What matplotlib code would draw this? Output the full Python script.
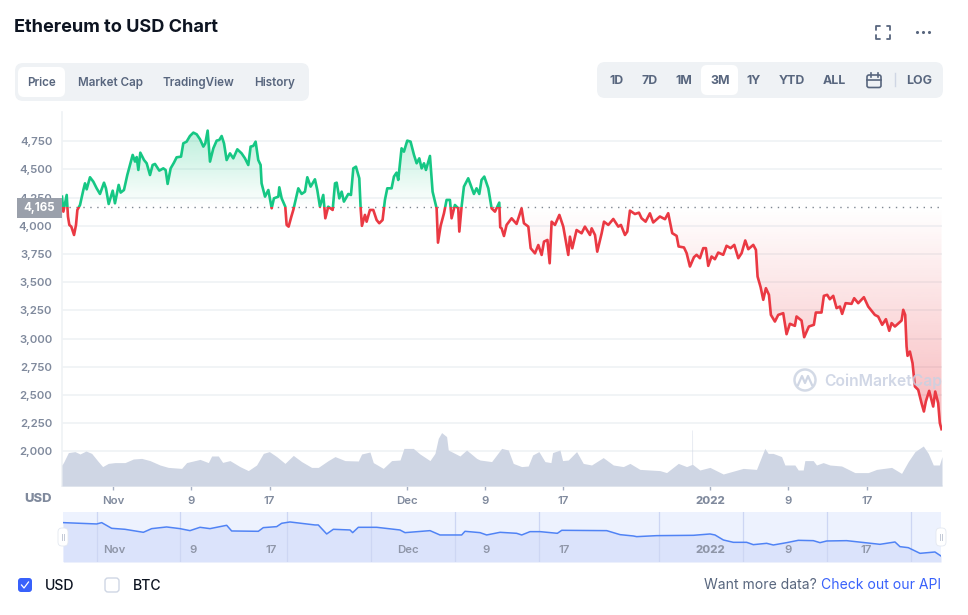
import numpy as np
import matplotlib
matplotlib.use("Agg")
import matplotlib.pyplot as plt
from matplotlib.patches import FancyBboxPatch, Rectangle, Circle
from matplotlib.path import Path

plt.rcParams['font.family'] = ['Inter', 'DejaVu Sans']

# ---- data (days counted from the first sample of the 3M window) ----
first_day_to_nov1 = 5.21
window_days = 89.9
baseline_price = 4165

price_days = [
 0.00,.14,.48,.61,.75,.95,1.23,1.43,1.57,1.84,2.18,2.35,2.52,2.86,3.20,3.54,3.88,4.29,4.49,4.77,5.18,5.41,5.79,5.99,6.33,6.67,
 7.22,7.46,7.63,7.80,8.00,8.38,8.65,8.99,9.26,9.50,9.94,10.35,10.59,10.79,11.10,11.44,11.71,12.16,12.39,12.73,13.07,13.42,13.76,
 14.10,14.44,14.64,14.88,15.12,15.46,15.80,16.07,16.31,16.55,16.82,17.16,17.50,17.91,18.35,18.69,19.03,19.27,19.54,19.78,20.05,
 20.29,20.39,20.74,21.08,21.42,21.65,22.10,22.20,22.44,22.81,22.95,23.15,23.43,23.63,23.90,24.14,24.48,24.82,25.06,25.40,25.84,26.08,26.35,
 26.69,26.90,27.20,27.65,27.89,28.06,28.33,28.57,28.80,29.25,29.52,29.76,30.03,30.37,30.51,30.64,30.95,31.12,31.46,31.80,32.14,32.41,32.75,
 32.99,33.23,33.67,33.91,34.18,34.35,34.69,34.93,35.27,35.61,35.96,36.23,36.50,36.74,36.98,37.18,37.59,37.86,38.10,38.27,38.41,38.68,39.02,
 39.29,39.63,39.80,40.14,40.48,40.59,40.82,41.06,41.50,42.08,42.35,42.63,42.86,43.14,43.55,43.89,44.23,44.67,44.77,44.91,45.15,45.42,45.93,
 46.44,46.95,47.19,47.64,47.88,48.32,48.66,49.00,49.24,49.59,49.82,50.02,50.36,50.81,51.21,51.72,51.89,52.13,52.57,53.08,53.42,53.94,54.11,
 54.45,54.68,55.13,55.37,55.81,56.32,56.83,57.10,57.51,57.75,58.02,58.53,58.94,59.21,59.62,60.06,
 60.40,61.08,61.60,61.93,62.34,62.79,62.99,63.54,63.81,64.15,64.56,64.83,65.17,65.51,65.78,66.02,66.36,66.70,67.04,67.55,67.89,68.30,68.68,
 69.09,69.43,69.80,70.11,70.62,70.89,71.06,71.37,71.64,71.91,72.22,72.42,72.83,73.17,73.68,74.02,74.36,74.87,75.04,75.55,75.82,76.30,76.81,
 77.01,77.59,77.83,78.17,78.44,78.79,79.13,79.47,79.70,80.05,80.66,80.93,81.34,81.92,82.36,83.04,83.38,83.79,84.17,84.51,84.75,85.09,85.77,
 85.94,86.14,86.28,86.38,86.62,86.89,87.13,87.47,87.81,88.05,88.25,88.59,89.00,89.21,89.51,89.68,89.85]

price_usd = [
 4259,4126,4274,4082,4008,3993,3919,4008,4141,4185,4318,4377,4324,4431,4392,4333,4283,4383,4333,4194,4312,4200,4363,4295,4318,4451,
 4629,4570,4610,4496,4649,4584,4555,4451,4540,4549,4490,4510,4495,4372,4510,4561,4608,4614,4732,4747,4797,4827,4812,
 4768,4703,4732,4845,4570,4688,4756,4762,4797,4732,4584,4643,4599,4679,4643,4599,4540,4703,4709,4747,4584,
 4540,4377,4259,4318,4156,4244,4259,4342,4244,4170,4008,3993,4082,4141,4244,4333,4283,4303,4431,4348,4413,4318,4170,
 4274,4067,4170,4141,4377,4383,4244,4303,4215,4283,4274,4510,4525,4422,4155,4000,4097,4037,4141,4141,4052,4023,4052,
 4230,4333,4333,4437,4472,4407,4688,4658,4756,4747,4629,4555,4599,4510,4555,4496,4620,4303,4215,4155,3851,4000,4111,
 4230,4230,4067,4185,4155,3949,4170,4348,4422,4283,4333,4283,4407,4437,4333,4155,4126,4206,3987,3978,3910,4008,4067,
 4017,4155,4023,3993,3801,3756,3830,3742,3860,3875,3668,4037,4008,4097,3993,3742,3904,3801,3963,3934,3993,3919,3978,
 3919,3771,3934,4037,4008,4061,3993,4008,3919,3949,4135,4105,4117,4067,4037,4111,
 4030,4083,4059,4112,3935,3911,3817,3808,3758,3639,3722,3743,3713,3802,3802,3645,3728,3704,3763,3743,3823,3802,3831,
 3713,3758,3870,3793,3831,3787,3550,3456,3344,3447,3388,3210,3151,3210,3225,3039,3131,3113,3196,3160,3012,3107,3122,
 3231,3231,3379,3388,3349,3379,3270,3284,3219,3314,3308,3358,3314,3367,3284,3210,3195,3122,3172,3069,3137,3107,3160,
 3255,3210,2930,2847,2885,2782,2575,2545,2427,2353,2442,2536,2397,2530,2427,2250,2196]

volume_days = [
 0,.2,.65,1.33,1.84,2.45,3.03,3.71,4.15,4.73,5.41,6.44,7.29,8.14,8.99,10.01,10.86,12.22,12.73,14.10,14.95,15.29,15.97,16.41,17.16,18.18,19.03,
 19.88,20.57,21.18,21.93,22.78,23.63,24.48,25.50,26.18,27.20,27.89,28.91,30.27,30.61,31.46,31.80,32.82,33.67,34.53,34.93,35.89,36.57,37.59,
 38.10,38.44,38.78,39.29,39.46,40.65,41.33,42.36,42.70,43.89,44.91,45.59,46.10,46.95,47.63,48.08,48.72,49.34,49.95,50.12,50.87,51.14,51.72,
 52.57,53.25,54.10,55.29,56.32,57.34,58.02,59.04,61.08,61.76,62.96,63.81,64.36,64.37,64.41,64.42,65.16,66.19,67.55,69.59,70.95,71.80,72.14,
 72.65,73.51,73.85,74.87,75.21,75.72,75.89,76.74,77.08,77.76,78.45,79.64,81.00,82.36,83.22,84.75,85.77,86.45,87.14,87.99,88.50,89.01,89.63,89.90]

volume_bn = [
 10.5,12.2,16.7,17.2,16,17.5,16.3,12.2,9.7,11.3,11.7,11.7,13.5,13.8,12.7,10.5,9.3,8.8,11.7,13.3,11.7,15,15,11.8,12.7,9.7,7.7,
 10.5,16.3,17.2,14.7,11.3,15.3,12.2,9.3,9.3,12.7,14.7,12.7,12.5,16,17,11.7,8.8,12.7,13,18.8,18.8,16,12.7,
 16.3,23.8,26.7,24.7,18,15,18,13.8,13,12.2,18.8,18,11.3,9.7,10,15.5,17.2,12.2,11.7,16.7,18,12.7,13,
 17.2,11.3,10.5,14.2,10.5,9.7,11.3,8.3,7.7,6.7,11.3,9.7,10.8,28,28,10.8,8,9.3,6,8.8,8.3,18.8,16.3,
 16.3,14.7,10.5,10.5,8,8,12.7,12.7,10.5,11.7,10.5,10,6.7,6.7,8.3,9.3,6.3,12.2,17.2,20,16.3,10.5,10.5,14.7]

overview_days = [
 .03,3.45,3.96,4.98,6.35,8.23,9.08,10.61,11.98,13.0,14.03,15.05,16.76,17.27,20.0,20.51,21.88,22.39,23.24,25.8,26.14,27.0,27.68,29.39,29.66,
 30.24,32.12,34.5,35.02,37.58,38.6,40.82,41.16,42.7,43.38,44.75,46.45,46.97,47.82,48.85,50.62,51.07,55.67,57.04,58.4,58.74,60.79,64.55,66.25,
 66.76,67.62,68.64,70.0,70.68,72.05,72.73,74.1,75.29,76.83,77.51,78.2,80.24,83.65,85.19,85.7,86.55,87.75,89.28,89.9]

overview_usd = [
 4800,4696,4800,4358,4280,4046,4332,4462,4332,4176,4436,4332,4592,4150,4124,4410,4488,4748,4852,4618,4618,3916,4280,4228,4020,
 4436,4436,4228,4020,4176,3838,3838,4124,4020,3838,4046,3968,3838,4098,4098,3968,4202,4176,3864,3760,3708,3786,3812,3916,
 3838,3448,3266,3266,3084,3188,3058,3240,3422,3396,3240,3370,3396,3110,3292,2928,2850,2408,2512,2200]

overview_grid_days = [3.48,11.98,22.94,31.54,40.14,48.74,61.03,69.63,78.23,86.83]

y_ticks = [2000,2250,2500,2750,3000,3250,3500,3750,4000,4250,4500,4750]
y_tick_labels = ['2,000','2,250','2,500','2,750','3,000','3,250','3,500','3,750','4,000','4,250','4,500','4,750']
x_tick_days = [0,8,16,30,38,46,61,69,77]          # days after 1 Nov 2021
x_tick_labels = ['Nov','9','17','Dec','9','17','2022','9','17']
left_tabs = ['Price','Market Cap','TradingView','History']
range_tabs = ['1D','7D','1M','3M','1Y','YTD','ALL']

# ---- styles ----
W, H = 968, 615
GREEN, RED = '#16c784', '#ea3943'
GRID, LABEL, DARK, TAB = '#eff2f5', '#808a9d', '#58667e', '#eff2f5'
VOL = '#cfd6e4'
BLUE = '#3861fb'
AXIS_FS = 8.2

fig = plt.figure(figsize=(W/100, H/100), dpi=100, facecolor='white')

def axes_px(x0, y0, x1, y1, **kw):
    return fig.add_axes([x0/W, 1-y1/H, (x1-x0)/W, (y1-y0)/H], **kw)

days = np.array(price_days)
prices = np.array(price_usd, float)

# ---- price panel ----
ax = axes_px(62, 112, 942, 486)
ax.patch.set_visible(False)
ax.set_xlim(0, window_days)
ax.set_ylim(1692, 5010)
ax.set_yticks(y_ticks, y_tick_labels)
ax.tick_params(axis='y', length=0, pad=7, labelsize=AXIS_FS, labelcolor=LABEL)
for t in ax.get_yticklabels():
    t.set_fontweight(600)
ax.set_xticks([d + first_day_to_nov1 for d in x_tick_days], x_tick_labels)
ax.tick_params(axis='x', length=3, width=1, color='#a6b0c3', pad=4, labelsize=AXIS_FS, labelcolor=LABEL)
for t, s in zip(ax.get_xticklabels(), x_tick_labels):
    t.set_fontweight(800 if s == '2022' else 600)
ax.grid(axis='y', color=GRID, lw=1.2, zorder=0)
for s in ['top', 'right']:
    ax.spines[s].set_visible(False)
for s in ['left', 'bottom']:
    ax.spines[s].set_color(GRID)
    ax.spines[s].set_linewidth(1.2)

def gradient(color, top, bottom, a_top, a_bottom, where):
    rgba = np.zeros((256, 1, 4))
    rgba[..., :3] = matplotlib.colors.to_rgb(color)
    rgba[..., 3] = np.linspace(a_top, a_bottom, 256)[:, None]
    im = ax.imshow(rgba, extent=[0, window_days, bottom, top], aspect='auto',
                   origin='upper', interpolation='bilinear', zorder=2)
    poly = ax.fill_between(days, prices, baseline_price, where=where, interpolate=True,
                           facecolor='none', edgecolor='none')
    im.set_clip_path(Path.make_compound_path(*poly.get_paths()), transform=ax.transData)

gradient(GREEN, 4860, baseline_price, 0.30, 0.0, prices >= baseline_price)
gradient(RED, baseline_price, 2196, 0.0, 0.36, prices <= baseline_price)
ax.set_xlim(0, window_days)
ax.set_ylim(1692, 5010)

up, = ax.plot(days, prices, color=GREEN, lw=1.9, zorder=4, solid_joinstyle='round')
up.set_clip_path(Rectangle((0, baseline_price), window_days, 1000, transform=ax.transData))
dn, = ax.plot(days, prices, color=RED, lw=1.9, zorder=4, solid_joinstyle='round')
dn.set_clip_path(Rectangle((0, 1692), window_days, baseline_price-1692, transform=ax.transData))
ax.axhline(baseline_price, color='#7f8792', lw=1, ls=(0, (1, 4)), zorder=3)

# ---- volume ----
axv = axes_px(62, 112, 942, 486)
axv.patch.set_visible(False)
axv.axis('off')
axv.set_xlim(0, window_days)
axv.set_ylim(0, 187)
axv.fill_between(volume_days, volume_bn, 0, color=VOL, lw=0)

# ---- overview ----
axn = axes_px(63, 512, 941, 562)
axn.set_xlim(0, window_days)
axn.set_ylim(1733, 5628)
axn.set_facecolor('#edf2fe')
axn.fill_between(overview_days, overview_usd, 1733, color='#dbe3fb', lw=0)
for d in overview_grid_days:
    axn.axvline(d, color='#cdd6f3', lw=0.9)
axn.plot(overview_days, overview_usd, color='#5083f5', lw=1.1)
axn.set_xticks([]); axn.set_yticks([])
for s in axn.spines.values():
    s.set_visible(False)
for d, s in zip(x_tick_days, x_tick_labels):
    axn.text(d + first_day_to_nov1 + 0.06, 2667, s, ha='center', va='center', fontsize=AXIS_FS,
             color='#8f96a8', fontweight=800 if s == '2022' else 600)

# ---- page furniture ----
ui = fig.add_axes([0, 0, 1, 1], zorder=10)
ui.set_xlim(0, W); ui.set_ylim(H, 0)
ui.axis('off'); ui.patch.set_visible(False)

def pill(x0, y0, x1, y1, r, fc, ec='none', lw=0, z=1):
    ui.add_patch(FancyBboxPatch((x0+r, y0+r), x1-x0-2*r, y1-y0-2*r,
                                boxstyle=f'round,pad={r},rounding_size={r}',
                                fc=fc, ec=ec, lw=lw, zorder=z))

ui.text(14, 27.5, 'Ethereum to USD Chart', fontsize=13.05, fontweight=700, color='#0d1421', va='center')

pill(15, 63, 309, 101, 8, TAB)
pill(18, 67, 65, 97, 6, 'white', z=2)
for s, cx in zip(left_tabs, [42, 110, 198.5, 275]):
    ui.text(cx, 83, s, ha='center', va='center', fontsize=8.4, fontweight=600, color=DARK, zorder=3)

pill(597, 62, 943, 98, 8, TAB)
pill(701, 65, 738, 95, 6, 'white', z=2)
for s, cx in zip(range_tabs, [617, 650, 684, 720, 754, 792, 834]):
    ui.text(cx, 81.5, s, ha='center', va='center', fontsize=8.9, fontweight=700, color=DARK, zorder=3)
ui.text(919, 81, 'LOG', ha='center', va='center', fontsize=8.9, fontweight=700, color=DARK, zorder=3)
ui.plot([895, 895], [73, 86], color='#cfd6e4', lw=1, zorder=3)
# calendar icon
pill(867, 75, 881, 87.5, 2, 'none', ec=DARK, lw=1.2, z=3)
ui.plot([867, 881], [79.5, 79.5], color=DARK, lw=1.2, zorder=3)
ui.plot([870.5, 870.5], [73, 76.5], color=DARK, lw=1.2, zorder=3)
ui.plot([877.5, 877.5], [73, 76.5], color=DARK, lw=1.2, zorder=3)
# fullscreen icon
for (cx, cy, dx, dy) in [(876, 26, 1, 1), (890, 26, -1, 1), (876, 38.5, 1, -1), (890, 38.5, -1, -1)]:
    ui.plot([cx+3.5*dx, cx, cx], [cy, cy, cy+3.5*dy], color=DARK, lw=1.3, solid_capstyle='round')
# more dots
ui.scatter([916.5, 922.5, 928.5], [32, 32, 32], s=5, color=DARK, lw=0)

# current-price badge
ui.add_patch(Rectangle((17, 198), 45, 19.5, fc='#9aa0ab', ec='none', zorder=5))
ui.text(39, 208, '4,165', ha='center', va='center', fontsize=8.3, fontweight=700, color='white', zorder=6)

ui.text(38, 499.5, 'USD', ha='center', va='center', fontsize=9.4, fontweight=800, color=LABEL)

# watermark
ui.add_patch(Circle((805, 380), 10.5, fc='none', ec='#cfd6e4', lw=1.8, alpha=0.9))
ui.plot([798, 802, 805, 808, 812], [385, 376, 383, 376, 385], color='#cfd6e4', lw=1.6)
ui.text(824, 381, 'CoinMarketCap', fontsize=11.3, fontweight=600, color='#c9d1e2', va='center', alpha=0.85)

# overview handles
for hx in (63, 941):
    pill(hx-5, 528, hx+5, 546, 4, 'white', ec='#e3e8f0', lw=0.6, z=4)
    ui.plot([hx-1.2, hx-1.2], [534, 540], color='#c3c9d6', lw=0.7, zorder=5)
    ui.plot([hx+1.2, hx+1.2], [534, 540], color='#c3c9d6', lw=0.7, zorder=5)

# currency toggles
pill(18, 578, 32, 592, 3, BLUE)
ui.plot([21.5, 24, 28.5], [585, 588, 582], color='white', lw=0.9, zorder=3)
ui.text(45, 585.5, 'USD', fontsize=10.1, fontweight=500, color='#0d1421', va='center')
pill(105, 578, 119, 592, 3, 'white', ec='#cfd6e4', lw=1)
ui.text(133, 585.5, 'BTC', fontsize=10.1, fontweight=500, color='#0d1421', va='center')
ui.text(817, 585, 'Want more data?', fontsize=10.05, color=DARK, va='center', ha='right')
ui.text(941, 585, 'Check out our API', fontsize=10.05, color=BLUE, va='center', ha='right')

fig.savefig('out.png', dpi=100)
